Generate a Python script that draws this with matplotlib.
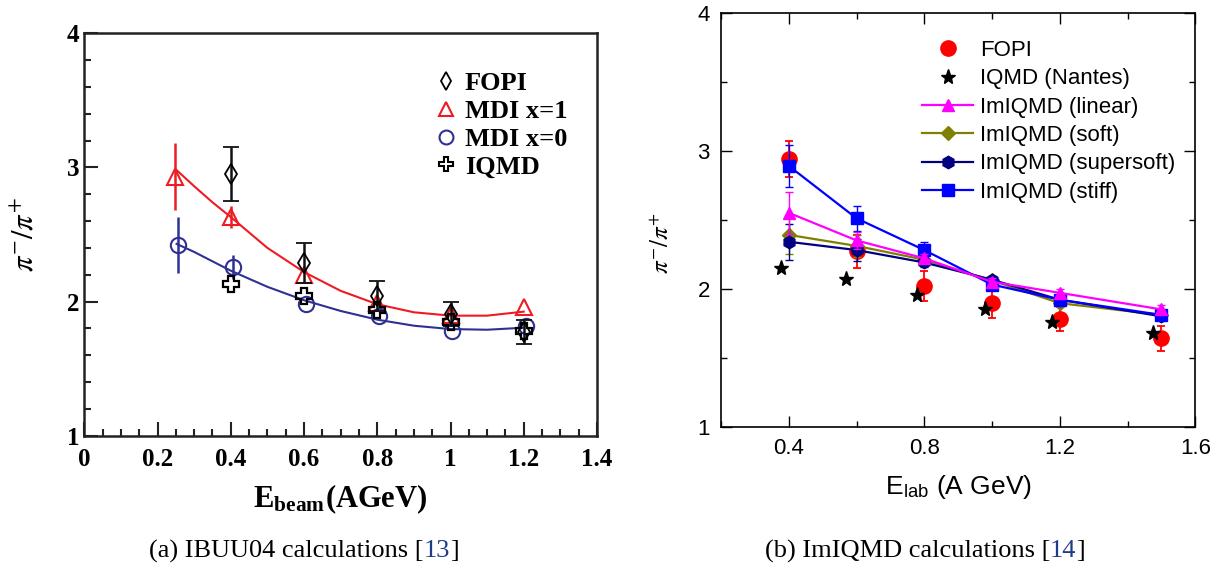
import numpy as np
import matplotlib
matplotlib.use("Agg")
from matplotlib import pyplot as plt
from matplotlib.ticker import MultipleLocator
from matplotlib.lines import Line2D

plt.rcParams['mathtext.fontset'] = 'stix'

# ---- (a) IBUU04 data ----
fopi_a_x = [0.4, 0.6, 0.8, 1.0, 1.2]
fopi_a_y = [2.95, 2.29, 2.04, 1.91, 1.77]
fopi_a_err = [0.20, 0.15, 0.11, 0.09, 0.09]

mdi1_x = [0.247, 0.4, 0.6, 0.8, 1.0, 1.2]
mdi1_y = [2.93, 2.63, 2.20, 1.99, 1.90, 1.96]
mdi1_err = [0.25, 0.08, 0.0, 0.0, 0.0, 0.0]

mdi0_x = [0.255, 0.405, 0.605, 0.805, 1.005, 1.205]
mdi0_y = [2.42, 2.26, 1.98, 1.89, 1.78, 1.82]
mdi0_err = [0.21, 0.09, 0.0, 0.0, 0.0, 0.0]

iqmd_a_x = [0.4, 0.6, 0.8, 1.0, 1.2]
iqmd_a_y = [2.13, 2.04, 1.94, 1.85, 1.78]

curve_x = [0.252, 0.3, 0.35, 0.4, 0.5, 0.6, 0.7, 0.8, 0.9, 1.0, 1.1, 1.2]
curve1_y = [2.98, 2.86, 2.74, 2.63, 2.40, 2.22, 2.08, 1.98, 1.92, 1.895, 1.895, 1.925]
curve0_y = [2.43, 2.37, 2.30, 2.23, 2.11, 2.01, 1.93, 1.865, 1.82, 1.795, 1.79, 1.805]

# ---- (b) ImIQMD data ----
fopi_b_x = [0.4, 0.6, 0.8, 1.0, 1.2, 1.5]
fopi_b_y = [2.94, 2.27, 2.02, 1.90, 1.78, 1.64]
fopi_b_err = [0.13, 0.12, 0.11, 0.11, 0.09, 0.09]

nantes_x = [0.378, 0.569, 0.778, 0.979, 1.178, 1.476]
nantes_y = [2.15, 2.07, 1.955, 1.855, 1.757, 1.68]

model_x = [0.4, 0.6, 0.8, 1.0, 1.2, 1.5]
linear_y = [2.55, 2.35, 2.22, 2.05, 1.97, 1.85]
linear_err = [0.15, 0.06, 0.03, 0.03, 0.03, 0.03]
soft_y = [2.39, 2.31, 2.21, 2.06, 1.895, 1.81]
soft_err = [0.14, 0.08, 0.03, 0.03, 0.03, 0.03]
supersoft_y = [2.34, 2.28, 2.19, 2.065, 1.92, 1.80]
supersoft_err = [0.13, 0.08, 0.03, 0.03, 0.03, 0.03]
stiff_y = [2.89, 2.51, 2.28, 2.03, 1.92, 1.81]
stiff_err = [0.15, 0.09, 0.06, 0.03, 0.03, 0.03]

red_a = '#ed1c24'
blue_a = '#2e3192'

fig = plt.figure(figsize=(12.28, 5.76), dpi=100)
W, H = 1228.0, 576.0

# ---------------- left panel ----------------
ax1 = fig.add_axes([84.3 / W, 1 - 435.7 / H, (597 - 84.3) / W, (435.7 - 33.3) / H])
serif = ['Liberation Serif', 'DejaVu Serif']

ax1.plot(curve_x, curve1_y, color=red_a, lw=1.5, zorder=2)
ax1.plot(curve_x, curve0_y, color=blue_a, lw=1.5, zorder=2)

ax1.errorbar(mdi1_x, mdi1_y, yerr=mdi1_err, fmt='^', ms=11, mfc='none', mec=red_a,
             mew=1.5, ecolor=red_a, elinewidth=1.8, capsize=0, zorder=3)
ax1.errorbar(mdi0_x, mdi0_y, yerr=mdi0_err, fmt='o', ms=11, mfc='none', mec=blue_a,
             mew=1.5, ecolor=blue_a, elinewidth=1.8, capsize=0, zorder=3)
ax1.errorbar(fopi_a_x, fopi_a_y, yerr=fopi_a_err, fmt='d', ms=10, mfc='none', mec='black',
             mew=1.3, ecolor='#111111', elinewidth=1.8, capsize=6, capthick=1.8, zorder=4)
ax1.plot(iqmd_a_x, iqmd_a_y, 'P', ms=12, mfc='none', mec='black', mew=1.6,
         zorder=4, ls='none')

ax1.set_xlim(0, 1.4)
ax1.set_ylim(1, 4)
ax1.xaxis.set_minor_locator(MultipleLocator(0.05))
ax1.yaxis.set_major_locator(MultipleLocator(1))
ax1.yaxis.set_minor_locator(MultipleLocator(0.2))
ax1.tick_params(which='both', direction='in', top=False, right=False, width=1.5,
                color='#222222')
ax1.tick_params(which='major', length=10)
ax1.tick_params(which='minor', length=5)
ax1.tick_params(axis='x', pad=9)
ax1.set_xticks([0, 0.2, 0.4, 0.6, 0.8, 1.0, 1.2, 1.4])
ax1.set_xticklabels(['0', '0.2', '0.4', '0.6', '0.8', '1', '1.2', '1.4'])
for lab in ax1.get_xticklabels() + ax1.get_yticklabels():
    lab.set_fontfamily(serif)
    lab.set_fontweight('bold')
    lab.set_fontsize(18)
for sp in ax1.spines.values():
    sp.set_linewidth(1.8)
    sp.set_color('#222222')

ax1.set_xlabel(r'E$_{\mathregular{beam}}$(AGeV)', fontsize=22, fontweight='bold',
               family=serif, labelpad=8)
ax1.set_ylabel(r'$\pi^{-}/\pi^{+}$', fontsize=22, family=serif, labelpad=19)

leg1_handles = [
    Line2D([], [], ls='none', marker='d', ms=9, mfc='none', mec='black', mew=1.3),
    Line2D([], [], ls='none', marker='^', ms=10, mfc='none', mec=red_a, mew=1.5),
    Line2D([], [], ls='none', marker='o', ms=10, mfc='none', mec=blue_a, mew=1.5),
    Line2D([], [], ls='none', marker='P', ms=10, mfc='none', mec='black', mew=1.5),
]
ax1.legend(leg1_handles, ['FOPI', 'MDI x=1', 'MDI x=0', 'IQMD'], frameon=False,
           loc='upper left', bbox_to_anchor=(433 / W, 1 - 72 / H),
           bbox_transform=fig.transFigure, handlelength=1.0, handletextpad=0.2,
           labelspacing=0.16, borderpad=0, borderaxespad=0,
           prop={'family': serif, 'weight': 'bold', 'size': 19})

# ---------------- right panel ----------------
ax2 = fig.add_axes([721 / W, 1 - 426.7 / H, (1195.3 - 721) / W, (426.7 - 12.7) / H])
sans = ['Liberation Sans', 'DejaVu Sans']

ax2.errorbar(fopi_b_x, fopi_b_y, yerr=fopi_b_err, fmt='o', ms=11, color='#ff0000',
             ecolor='#ff0000', elinewidth=1.3, capsize=3, capthick=1.3, zorder=2)
ax2.plot(nantes_x, nantes_y, '*', ms=11, color='black', ls='none', zorder=3)
ax2.errorbar(model_x, soft_y, yerr=soft_err, fmt='-D', ms=7, color='#808000', lw=1.6,
             elinewidth=1.0, capsize=3, zorder=4)
ax2.errorbar(model_x, supersoft_y, yerr=supersoft_err, fmt='-h', ms=9, color='#000080',
             lw=1.6, elinewidth=1.0, capsize=3, zorder=5)
ax2.errorbar(model_x, stiff_y, yerr=stiff_err, fmt='-s', ms=8, color='#0000ff', lw=1.6,
             elinewidth=1.0, capsize=3, zorder=6)
ax2.errorbar(model_x, linear_y, yerr=linear_err, fmt='-^', ms=9, color='#ff00ff', lw=1.6,
             elinewidth=1.0, capsize=3, zorder=7)

ax2.set_xlim(0.2, 1.6)
ax2.set_ylim(1, 4)
ax2.xaxis.set_major_locator(MultipleLocator(0.4))
ax2.xaxis.set_minor_locator(MultipleLocator(0.2))
ax2.set_xticks([0.4, 0.8, 1.2, 1.6])
ax2.yaxis.set_major_locator(MultipleLocator(1))
ax2.yaxis.set_minor_locator(MultipleLocator(0.5))
ax2.tick_params(which='both', direction='in', top=True, right=True, width=1.0)
ax2.tick_params(which='major', length=8)
ax2.tick_params(which='minor', length=4)
ax2.tick_params(axis='x', pad=8)
ax2.tick_params(axis='y', pad=8)
for lab in ax2.get_xticklabels() + ax2.get_yticklabels():
    lab.set_fontfamily(sans)
    lab.set_fontsize(16)
for sp in ax2.spines.values():
    sp.set_linewidth(1.2)

ax2.set_xlabel(r'E$_{\mathregular{lab}}$ (A GeV)', fontsize=19, family=sans, labelpad=10)
ax2.set_ylabel(r'$\pi^{-}/\pi^{+}$', fontsize=18, family=sans)
ax2.yaxis.set_label_coords(-0.10, 0.444)

names = ['FOPI', 'IQMD (Nantes)', 'ImIQMD (linear)', 'ImIQMD (soft)',
         'ImIQMD (supersoft)', 'ImIQMD (stiff)']
leg2_handles = [
    Line2D([], [], ls='none', marker='o', ms=11, color='#ff0000'),
    Line2D([], [], ls='none', marker='*', ms=11, color='black'),
    Line2D([], [], marker='^', ms=9, color='#ff00ff', lw=1.6),
    Line2D([], [], marker='D', ms=7, color='#808000', lw=1.6),
    Line2D([], [], marker='h', ms=9, color='#000080', lw=1.6),
    Line2D([], [], marker='s', ms=8, color='#0000ff', lw=1.6),
]
ax2.legend(leg2_handles, names, frameon=False, loc='upper left',
           bbox_to_anchor=(922 / W, 1 - 40 / H), bbox_transform=fig.transFigure,
           handlelength=2.3, handletextpad=0.3, labelspacing=0.33, borderpad=0,
           borderaxespad=0, prop={'family': sans, 'size': 16})

# captions, with the citation number in blue
renderer = fig.canvas.get_renderer()


def caption(xc, parts):
    texts = [fig.text(0, 1 - 551 / H, s, va='center', family=serif, fontsize=19, color=c)
             for s, c in parts]
    widths = [t.get_window_extent(renderer).width for t in texts]
    x = xc - sum(widths) / 2
    for t, w in zip(texts, widths):
        t.set_x(x / W)
        x += w


caption(304, [('(a) IBUU04 calculations [', 'black'), ('13', '#1f3c88'), (']', 'black')])
caption(925, [('(b) ImIQMD calculations [', 'black'), ('14', '#1f3c88'), (']', 'black')])

fig.savefig('out.png', dpi=100)
